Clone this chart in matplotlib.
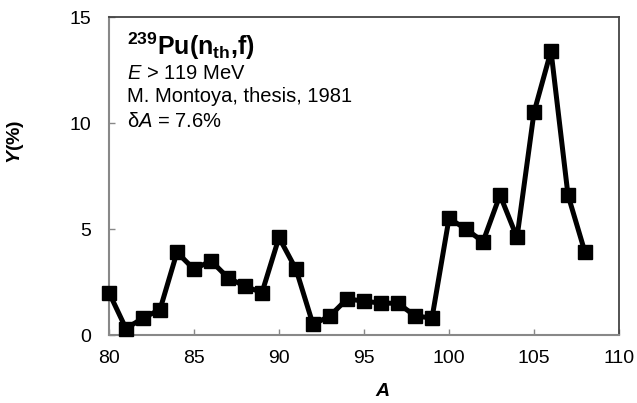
import matplotlib
matplotlib.use('Agg')
import matplotlib.pyplot as plt

# mass number A and yield Y(%)
mass_numbers = [80, 81, 82, 83, 84, 85, 86, 87, 88, 89, 90, 91, 92, 93, 94,
                95, 96, 97, 98, 99, 100, 101, 102, 103, 104, 105, 106, 107, 108]
yields = [2.0, 0.3, 0.8, 1.2, 3.9, 3.1, 3.5, 2.7, 2.3, 2.0, 4.6, 3.1, 0.5, 0.9, 1.7,
          1.6, 1.5, 1.5, 0.9, 0.8, 5.5, 5.0, 4.4, 6.6, 4.6, 10.5, 13.4, 6.6, 3.9]

x_ticks = [80, 85, 90, 95, 100, 105, 110]
y_ticks = [0, 5, 10, 15]

info_lines = [r'$E$ > 119 MeV', 'M. Montoya, thesis, 1981', r'δ$A$ = 7.6%']

plt.rcParams['font.family'] = ['Liberation Sans', 'DejaVu Sans']
plt.rcParams['mathtext.fontset'] = 'custom'
plt.rcParams['mathtext.rm'] = 'Liberation Sans'
plt.rcParams['mathtext.it'] = 'Liberation Sans:italic'
plt.rcParams['mathtext.bf'] = 'Liberation Sans:bold'
plt.rcParams['mathtext.bfit'] = 'Liberation Sans:italic:bold'

fig = plt.figure(figsize=(6.37, 4.03), dpi=100)
ax = fig.add_axes([109 / 637, 68 / 403, 510 / 637, 318 / 403])

ax.plot(mass_numbers, yields, color='black', linewidth=3.6, clip_on=False, zorder=3,
        marker='s', markersize=9.5, markerfacecolor='black', markeredgecolor='black')

ax.set_xlim(80, 110)
ax.set_ylim(0, 15)
ax.set_xticks(x_ticks)
ax.set_yticks(y_ticks)
ax.tick_params(axis='both', direction='in', length=4, width=1, colors='#888888',
               labelcolor='black', labelsize=14)
ax.tick_params(axis='x', pad=11)
ax.tick_params(axis='y', pad=13)

for side in ('left', 'bottom'):
    ax.spines[side].set_color('#888888')
    ax.spines[side].set_linewidth(1.5)
for side in ('top', 'right'):
    ax.spines[side].set_color('#444444')
    ax.spines[side].set_linewidth(1.3)

ax.text(0.035, 0.880, r'$^{\mathbf{239}}\mathbf{Pu(n_{th}{,}f)}$', transform=ax.transAxes,
        fontsize=18, va='baseline', ha='left')
for y, line in zip([0.805, 0.732, 0.653], info_lines):
    ax.text(0.035, y, line, transform=ax.transAxes, fontsize=14.5, va='baseline', ha='left')

fig.text(16 / 637, 1 - 142 / 403, r'$\mathbfit{Y}$(%)', rotation=90,
         fontsize=14, fontweight='bold', ha='center', va='center')
fig.text(382 / 637, 1 - 392 / 403, 'A', fontsize=14, fontweight='bold', style='italic',
         ha='center', va='center')

fig.savefig('out.png', dpi=100)
